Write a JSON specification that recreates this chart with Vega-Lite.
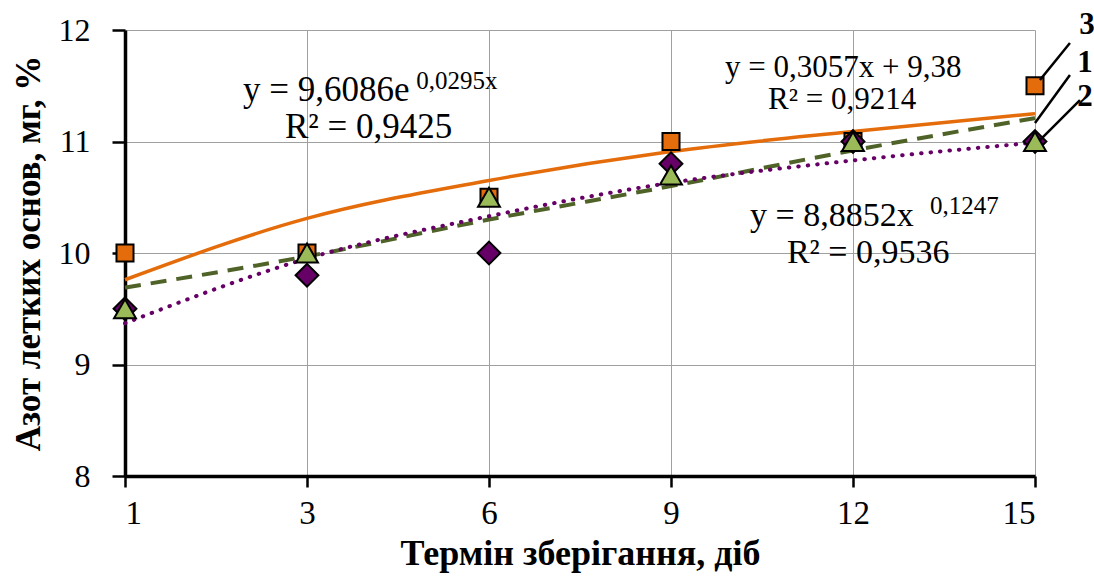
{
  "$schema": "https://vega.github.io/schema/vega-lite/v6.json",
  "width": 910,
  "height": 446,
  "autosize": "none",
  "padding": {"left": 125, "top": 30, "right": 59, "bottom": 107},
  "background": "white",
  "config": {
    "view": {"stroke": null},
    "font": "Liberation Serif, Times New Roman, serif",
    "axis": {"labelFont": "Liberation Serif, Times New Roman, serif", "titleFont": "Liberation Serif, Times New Roman, serif", "labelColor": "black", "titleColor": "black", "gridColor": "#A0A0A0", "gridWidth": 1}
  },
  "datasets": {
    "points": [
      {"idx": 1, "series": "3", "value": 10.0},
      {"idx": 2, "series": "3", "value": 10.0},
      {"idx": 3, "series": "3", "value": 10.5},
      {"idx": 4, "series": "3", "value": 11.0},
      {"idx": 5, "series": "3", "value": 11.0},
      {"idx": 6, "series": "3", "value": 11.5},
      {"idx": 1, "series": "1", "value": 9.5},
      {"idx": 2, "series": "1", "value": 9.8},
      {"idx": 3, "series": "1", "value": 10.0},
      {"idx": 4, "series": "1", "value": 10.8},
      {"idx": 5, "series": "1", "value": 11.0},
      {"idx": 6, "series": "1", "value": 11.0},
      {"idx": 1, "series": "2", "value": 9.5},
      {"idx": 2, "series": "2", "value": 10.0},
      {"idx": 3, "series": "2", "value": 10.5},
      {"idx": 4, "series": "2", "value": 10.7},
      {"idx": 5, "series": "2", "value": 11.0},
      {"idx": 6, "series": "2", "value": 11.0}
    ],
    "trend": [
      {"idx": 1, "series": "3", "value": 9.76},
      {"idx": 2, "series": "3", "value": 10.31},
      {"idx": 3, "series": "3", "value": 10.65},
      {"idx": 4, "series": "3", "value": 10.91},
      {"idx": 5, "series": "3", "value": 11.09},
      {"idx": 6, "series": "3", "value": 11.25},
      {"idx": 1, "series": "2", "value": 9.69},
      {"idx": 2, "series": "2", "value": 9.97},
      {"idx": 3, "series": "2", "value": 10.3},
      {"idx": 4, "series": "2", "value": 10.6},
      {"idx": 5, "series": "2", "value": 10.92},
      {"idx": 6, "series": "2", "value": 11.21},
      {"idx": 1, "series": "1", "value": 9.37},
      {"idx": 2, "series": "1", "value": 9.95},
      {"idx": 3, "series": "1", "value": 10.33},
      {"idx": 4, "series": "1", "value": 10.63},
      {"idx": 5, "series": "1", "value": 10.83},
      {"idx": 6, "series": "1", "value": 10.99}
    ],
    "notes": [
      {"x": 1.648, "y": 11.462, "text": "y = 9,6086e", "size": 35},
      {"x": 2.6, "y": 11.543, "text": "0,0295x", "size": 25},
      {"x": 1.879, "y": 11.13, "text": "R² = 0,9425", "size": 35},
      {"x": 4.297, "y": 11.655, "text": "y = 0,3057x + 9,38", "size": 31},
      {"x": 4.533, "y": 11.372, "text": "R² = 0,9214", "size": 31},
      {"x": 4.434, "y": 10.332, "text": "y = 8,8852x", "size": 34},
      {"x": 5.423, "y": 10.422, "text": "0,1247", "size": 25},
      {"x": 4.637, "y": 9.996, "text": "R² = 0,9536", "size": 34}
    ],
    "labels": [
      {"x": 6.286, "y": 12.045, "text": "3"},
      {"x": 6.275, "y": 11.704, "text": "1"},
      {"x": 6.275, "y": 11.399, "text": "2"}
    ],
    "leaders": [
      {"x": 6.027, "y": 11.552, "x2": 6.192, "y2": 11.883},
      {"x": 6.0, "y": 11.166, "x2": 6.192, "y2": 11.596},
      {"x": 6.027, "y": 11.013, "x2": 6.247, "y2": 11.372}
    ]
  },
  "layer": [
    {
      "data": {"name": "trend"},
      "transform": [{"filter": "datum.series === '3'"}],
      "mark": {"type": "line", "color": "#E46C0A", "strokeWidth": 3.5, "interpolate": "monotone"},
      "encoding": {
        "x": {"field": "idx", "type": "quantitative", "scale": {"domain": [1, 6], "nice": false, "zero": false},
          "axis": {"values": [1, 2, 3, 4, 5, 6], "labelExpr": "['1','3','6','9','12','15'][datum.value-1]", "title": "Термін зберігання, діб", "titleFontSize": 36, "titleFontWeight": "bold", "labelFontSize": 33, "domainColor": "black", "domainWidth": 3.5, "tickColor": "black", "tickWidth": 2.5, "tickSize": 11, "labelPadding": 10, "titlePadding": 6, "grid": true}},
        "y": {"field": "value", "type": "quantitative", "scale": {"domain": [8, 12], "nice": false, "zero": false},
          "axis": {"values": [8, 9, 10, 11, 12], "format": "d", "title": "Азот летких основ, мг, %", "titleFontSize": 35, "titleFontWeight": "bold", "labelFontSize": 32, "domainColor": "black", "domainWidth": 3.5, "tickColor": "black", "tickWidth": 2.5, "tickSize": 13, "labelPadding": 22, "titlePadding": 12, "grid": true}}
      }
    },
    {
      "data": {"name": "trend"},
      "transform": [{"filter": "datum.series === '2'"}],
      "mark": {"type": "line", "color": "#4F6228", "strokeWidth": 4, "strokeDash": [16, 10], "interpolate": "monotone"},
      "encoding": {
        "x": {"field": "idx", "type": "quantitative"},
        "y": {"field": "value", "type": "quantitative"}
      }
    },
    {
      "data": {"name": "trend"},
      "transform": [{"filter": "datum.series === '1'"}],
      "mark": {"type": "line", "color": "#660066", "strokeWidth": 4, "strokeDash": [0.5, 9], "strokeCap": "round", "interpolate": "monotone"},
      "encoding": {
        "x": {"field": "idx", "type": "quantitative"},
        "y": {"field": "value", "type": "quantitative"}
      }
    },
    {
      "data": {"name": "points"},
      "transform": [{"filter": "datum.series === '3'"}],
      "mark": {"type": "point", "shape": "square", "filled": true, "fill": "#E46C0A", "stroke": "black", "strokeWidth": 2, "size": 290, "opacity": 1, "clip": false},
      "encoding": {
        "x": {"field": "idx", "type": "quantitative"},
        "y": {"field": "value", "type": "quantitative"}
      }
    },
    {
      "data": {"name": "points"},
      "transform": [{"filter": "datum.series === '1'"}],
      "mark": {"type": "point", "shape": "diamond", "filled": true, "fill": "#660066", "stroke": "black", "strokeWidth": 2, "size": 520, "opacity": 1, "clip": false},
      "encoding": {
        "x": {"field": "idx", "type": "quantitative"},
        "y": {"field": "value", "type": "quantitative"}
      }
    },
    {
      "data": {"name": "points"},
      "transform": [{"filter": "datum.series === '2'"}],
      "mark": {"type": "point", "shape": "triangle-up", "filled": true, "fill": "#9BBB59", "stroke": "black", "strokeWidth": 2, "size": 480, "opacity": 1, "clip": false},
      "encoding": {
        "x": {"field": "idx", "type": "quantitative"},
        "y": {"field": "value", "type": "quantitative"}
      }
    },
    {
      "data": {"name": "notes"},
      "mark": {"type": "text", "align": "left", "baseline": "middle", "color": "black", "clip": false},
      "encoding": {
        "x": {"field": "x", "type": "quantitative"},
        "y": {"field": "y", "type": "quantitative"},
        "text": {"field": "text"},
        "size": {"field": "size", "type": "quantitative", "scale": null}
      }
    },
    {
      "data": {"name": "leaders"},
      "mark": {"type": "rule", "color": "black", "strokeWidth": 2.5, "clip": false},
      "encoding": {
        "x": {"field": "x", "type": "quantitative"},
        "y": {"field": "y", "type": "quantitative"},
        "x2": {"field": "x2"},
        "y2": {"field": "y2"}
      }
    },
    {
      "data": {"name": "labels"},
      "mark": {"type": "text", "align": "center", "baseline": "middle", "fontWeight": "bold", "fontSize": 31, "color": "black", "clip": false},
      "encoding": {
        "x": {"field": "x", "type": "quantitative"},
        "y": {"field": "y", "type": "quantitative"},
        "text": {"field": "text"}
      }
    }
  ]
}
